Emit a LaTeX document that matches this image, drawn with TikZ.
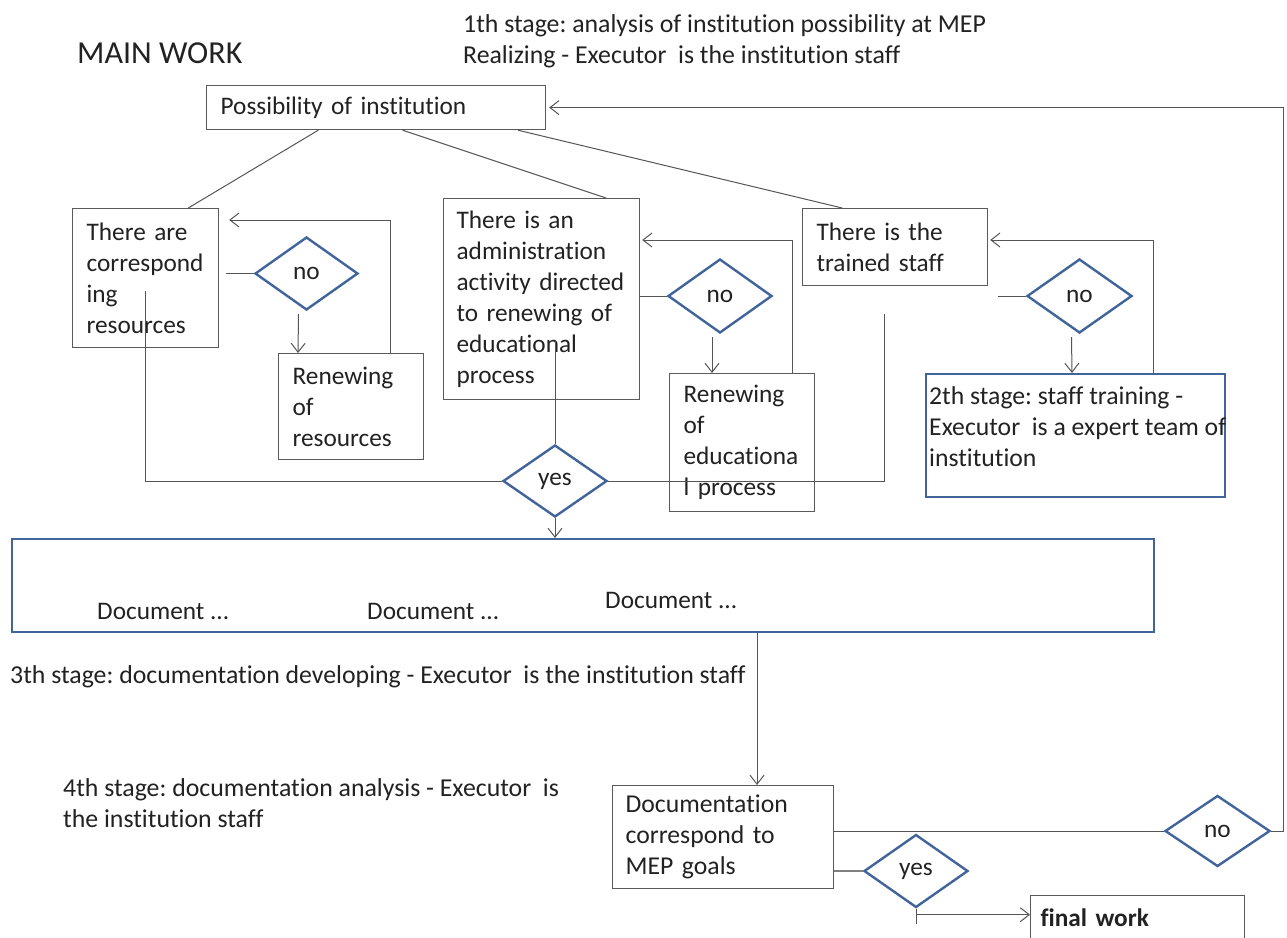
\documentclass[tikz,border=0pt]{standalone}
\usepackage{fontspec}
\setmainfont{Carlito}[Ligatures=NoCommon]
\usetikzlibrary{arrows.meta,shapes.geometric,calc}
\frenchspacing
\definecolor{linegray}{HTML}{555555}
\definecolor{boxgray}{HTML}{5A5A5A}
\definecolor{stepblue}{HTML}{41659A}
\definecolor{inkdark}{HTML}{222222}
\tikzset{
  plainbox/.style={draw=boxgray, line width=1.2pt, anchor=north west,
    inner xsep=14pt, inner ysep=0pt, align=left, text=inkdark},
  bluebox/.style={draw=stepblue, line width=2.4pt, anchor=north west,
    inner ysep=0pt, align=left, text=inkdark},
  choice/.style={diamond, draw=stepblue, line width=2.4pt, inner sep=0pt,
    text=inkdark},
  plaintext/.style={anchor=base west, inner sep=0pt, text=inkdark,
    font=\fontsize{25.8}{31}\selectfont},
  link/.style={draw=linegray, line width=1pt},
  arr/.style={link, -{Straight Barb[length=9pt,width=14pt]}}
}
\begin{document}
\begin{tikzpicture}[x=1pt, y=-1pt, font=\fontsize{25.3}{31}\selectfont]
\useasboundingbox (0,0) rectangle (1287,937);
\fill[white] (0,0) rectangle (1287,937);
\clip (0,0) rectangle (1287,937);

% headings and stage notes
\node[plaintext, font=\fontsize{32}{38}\selectfont] (title) at (77,63) {MAIN WORK};
\node[plaintext] (st1a) at (463,32) {1th stage: analysis of institution possibility at MEP};
\node[plaintext] (st1b) at (463,63) {Realizing - Executor\ \ is the institution staff};
\node[plaintext] (st3) at (10,683) {3th stage: documentation developing - Executor\ \ is the institution staff};
\node[plaintext] (st4a) at (63,796) {4th stage: documentation analysis - Executor\ \ is};
\node[plaintext] (st4b) at (63,827) {the institution staff};

% boxes
\node[plainbox, text width=311pt, minimum height=44pt] (poss) at (206,85) {Possibility of institution};
\node[plainbox, text width=118pt, minimum height=139pt] (res) at (72,208)
  {There are\\correspond\\ing\\resources};
\node[plainbox, text width=117pt, minimum height=106pt] (r1) at (278,353)
  {Renewing\\of\\resources};
\node[plainbox, inner xsep=13pt, text width=170pt, minimum height=201pt] (adm) at (443,198)
  {There is an\\administration\\activity directed\\to renewing of\\educational\\process};
\node[plainbox, text width=117pt, minimum height=138pt] (r2) at (669,373)
  {Renewing\\of\\educationa\\l process};
\node[plainbox, text width=157pt, minimum height=77pt] (staff) at (802,208)
  {There is the\\trained staff};
\node[draw=stepblue, line width=2.4pt, anchor=north west, inner xsep=3pt, inner ysep=3pt,
      text=inkdark, font=\fontsize{25.7}{31}\selectfont] (s2) at (925,373)
  {\parbox[c][117pt][t]{293pt}{\raggedright\rule{0pt}{27pt}2th stage: staff training -\\
   \mbox{Executor\ \ is a expert team of}\\institution}};
\node[bluebox, minimum width=1142pt, minimum height=93pt] (main) at (11,538) {};
\node[plaintext, font=\fontsize{25.3}{31}\selectfont] (doc1) at (97,619) {Document ...};
\node[plaintext, font=\fontsize{25.3}{31}\selectfont] (doc2) at (367,619) {Document ...};
\node[plaintext, font=\fontsize{25.3}{31}\selectfont] (doc3) at (605,608) {Document ...};
\node[plainbox, inner xsep=13pt, text width=195pt, minimum height=103pt,
      font=\fontsize{25.7}{31}\selectfont] (doc) at (612,785)
  {Documentation\\correspond to\\MEP goals};
\node[plainbox, inner xsep=10pt, text width=194pt, minimum height=44pt] (final) at (1030,895)
  {\bfseries final work};

% decisions
\node[choice, minimum width=103pt, minimum height=73pt] (d1) at (306.5,273.5) {no};
\node[choice, minimum width=104pt, minimum height=74pt] (d2) at (720,296) {no};
\node[choice, minimum width=105pt, minimum height=74pt] (d3) at (1079.5,296) {no};
\node[choice, minimum width=104pt, minimum height=72pt] (y1) at (555,481) {yes};
\node[choice, minimum width=105pt, minimum height=71pt] (n4) at (1217.5,831) {no};
\node[choice, minimum width=104pt, minimum height=73pt] (y2) at (916,871) {yes};

% branches from the top box
\draw[link] ($(poss.south west)!0.33!(poss.south east)$) -- ($(res.north west)!0.79!(res.north east)$);
\draw[link] ($(poss.south west)!0.578!(poss.south east)$) -- ($(adm.north west)!0.827!(adm.north east)$);
\draw[link] ($(poss.south west)!0.917!(poss.south east)$) -- ($(staff.north west)!0.216!(staff.north east)$);

% resources branch
\draw[link] ($(d1.west -| res.east)+(7,0)$) -- (d1.west);
\draw[arr] ($(d1.south)+(-8,3)$) -- ($(r1.north west)+(20,0)$);
\draw[arr] ($(r1.north west)!0.77!(r1.north east)$) |- ($(res.north east)+(10,12)$);

% administration branch
\draw[link] (d2.west -| adm.east) -- (d2.west);
\draw[arr] ($(d2.south)+(-8,3)$) -- ($(r2.north west)+(43,0)$);
\draw[arr] ($(r2.north west)!0.848!(r2.north east)$) |- ($(adm.north east)+(2,42)$);

% staff branch
\draw[link] ($(d3.west -| staff.east)+(10,0)$) -- (d3.west);
\draw[arr] ($(d3.south)+(-8,3)$) -- ($(s2.north west)+(147,0)$);
\draw[arr] ($(s2.north west)!0.759!(s2.north east)$) |- ($(staff.north east)+(2,32)$);

% joining the positive answers
\draw[link] ($(res.north west)+(73,83)$) |- (y1.west);
\draw[link] ($(adm.north west)+(112,142)$) -- (y1.north);
\draw[link] (y1.east) -| ($(staff.south west)+(82,28)$);
\draw[arr] (y1.south) -- (y1.south |- main.north);

% documentation check
\draw[arr] ($(main.south west)+(746,0)$) -- ($(doc.north west)+(145,0)$);
\draw[link] (n4.west -| doc.east) -- (n4.west);
\draw[arr] (n4.east) -| ($(poss.east)+(737,0)$) -- ($(poss.east)+(3,0)$);
\draw[link, line width=1.6pt, draw=gray] (y2.west -| doc.east) -- (y2.west);
\coordinate (ybend) at ($(y2.south)+(0,6)$);
\coordinate (ytail) at ($(y2.south)+(0,15)$);
\draw[link] (y2.south) -- (ytail);
\draw[arr] (ybend) -- (ybend -| final.west);
\end{tikzpicture}
\end{document}
